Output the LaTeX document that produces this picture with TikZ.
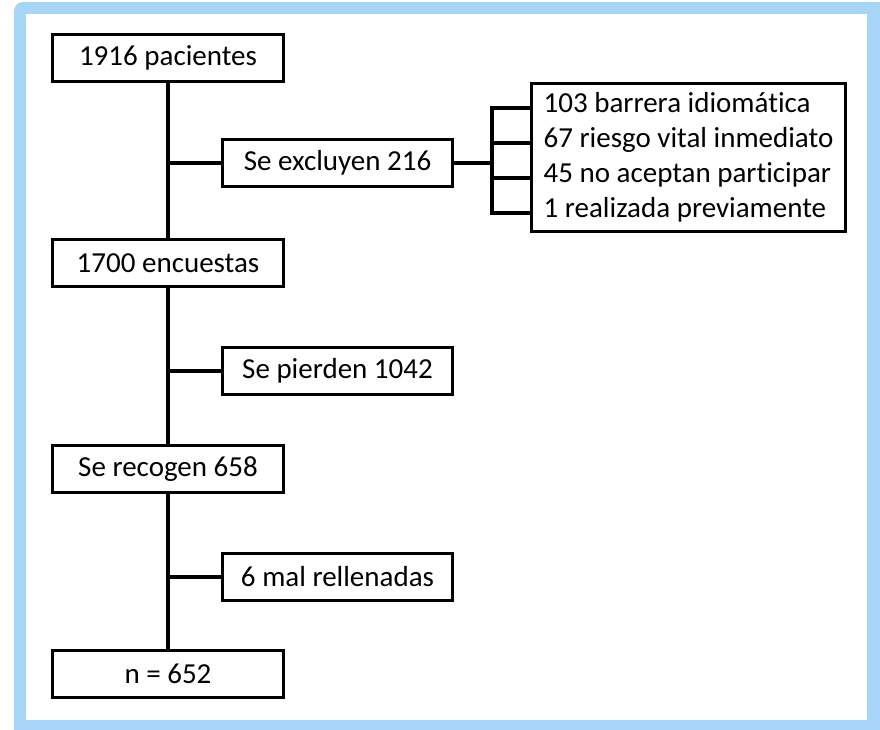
\documentclass[tikz,border=0pt]{standalone}
\usepackage{fontspec}
\setmainfont{Carlito}[RawFeature=-liga]
\definecolor{framecol}{RGB}{166,213,247}
\begin{document}
\begin{tikzpicture}[x=1pt,y=-1pt,
  box/.style={draw=black, line width=3.4pt, fill=white, minimum height=46.6pt, inner sep=0pt,
              font=\fontsize{29}{35}\selectfont},
  mainbox/.style={box, minimum width=230.6pt},
  sidebox/.style={box, minimum width=229.6pt},
  link/.style={line width=3.4pt, line join=miter}]
\useasboundingbox (0,0) rectangle (880,729);
\clip (0,0) rectangle (880,729);
\fill[framecol, rounded corners=9pt] (14,2) rectangle (900,760);
\fill[white] (26,14) rectangle (867,720);

\node[mainbox] (b1) at (168,58) {1916 pacientes};
\node[mainbox] (b2) at (168,263) {1700 encuestas};
\node[mainbox] (b3) at (168,469) {Se recogen 658};
\node[mainbox] (b4) at (168,674) {n = 652};

\node[sidebox] (s1) at (337.5,163) {Se excluyen 216};
\node[sidebox] (s2) at (337.5,371) {Se pierden 1042};
\node[sidebox] (s3) at (337.5,577) {6 mal rellenadas};

\node[box, minimum width=313.6pt, minimum height=147.6pt, align=left] (lst) at (688.5,157.5)
  {103 barrera idiomática\\67 riesgo vital inmediato\\45 no aceptan participar\\1 realizada previamente};

\draw[link] (b1) -- (b2);
\draw[link] (b2) -- (b3);
\draw[link] (b3) -- (b4);
\draw[link] (s1.west) -- (s1.west -| b1.south);
\draw[link] (s2.west) -- (s2.west -| b1.south);
\draw[link] (s3.west) -- (s3.west -| b1.south);

\coordinate (j) at (492,163);
\coordinate (k1) at (492,108);
\coordinate (k2) at (492,143);
\coordinate (k3) at (492,178);
\coordinate (k4) at (492,213);
\draw[link] (s1.east) -- (j);
\draw[link] (k1 -| lst.west) -- (k1) -- (k4) -- (k4 -| lst.west);
\draw[link] (k2) -- (k2 -| lst.west);
\draw[link] (k3) -- (k3 -| lst.west);
\end{tikzpicture}
\end{document}
